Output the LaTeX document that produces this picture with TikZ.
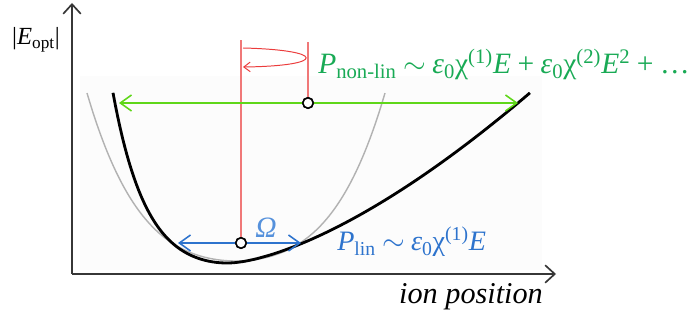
\documentclass[tikz,border=0pt]{standalone}
\usepackage{fontspec}
\setmainfont{Liberation Serif}
\usetikzlibrary{arrows.meta}
\definecolor{axisgray}{RGB}{55,55,55}
\definecolor{lime}{RGB}{95,215,25}
\definecolor{leaf}{RGB}{25,170,85}
\definecolor{sky}{RGB}{45,115,205}
\definecolor{skylight}{RGB}{85,145,220}
\definecolor{rose}{RGB}{240,120,120}
\definecolor{scarlet}{RGB}{235,60,60}
\newcommand{\epsz}{\textit{ε}\textsubscript{0}}
\newcommand{\chin}[1]{χ\textsuperscript{(#1)}}
\newcommand{\rel}[1]{\hspace{0.22em}#1\hspace{0.22em}}
\tikzset{
  axis/.style={draw=axisgray,line width=1.2pt,-{Straight Barb[length=2.4mm,width=4.4mm]}},
  barb/.style={<->,>={Straight Barb[length=2.8mm,width=4mm]},line width=1.1pt,draw=#1},
  barb/.default=lime,
  ion/.style={circle,draw=black,fill=white,line width=1.1pt,inner sep=0pt,minimum size=2.6mm},
  axis pin/.style={draw=rose,line width=0.8pt},
  lbl/.style={font=\fontsize{#1}{#1}\selectfont,inner sep=0pt},
  lbl/.default=20,
}
\begin{document}
\begin{tikzpicture}[x=0.025cm,y=-0.025cm]
  \useasboundingbox (0,0) rectangle (690,320);
  % faint backdrop
  \fill[black!1.2] (80,76) rectangle (542,270);
  % axes
  \draw[axis] (72,274) -- (72,3);
  \draw[axis] (72,274) -- (556,274);
  \node[lbl=17.5,anchor=base] (eopt) at (36,45) {|\textit{E}\textsubscript{opt}|};
  \node[lbl=21.5,anchor=base,font=\fontsize{21.5}{21.5}\selectfont\itshape] (xlab) at (471,304) {ion position};
  % harmonic (gray) and real (black) potentials
  \draw[black!30,line width=1pt] plot[smooth,domain=-1.49:1.49,samples=60]
    ({236+100*\x},{261-36.8*\x*\x-17.5*\x*\x*\x*\x});
  \draw[black,line width=2pt,line join=round]
    plot[domain=-1.14:0,samples=50] ({227+100*\x},{263-11.9*(cosh(3*\x)-1)})
    -- plot[domain=0:3.03,samples=80] ({227+100*\x},{263-32.2*((\x*\x+0.0225)^0.755-0.057)});
  % ions
  \node[ion] (ionlin) at (241,243) {};
  \node[ion] (ionnl) at (308,103) {};
  \coordinate (toplin) at (241,40);
  \coordinate (topnl) at (308,42);
  \draw[axis pin] (ionlin) -- (toplin);
  \draw[axis pin] (ionnl) -- (topnl);
  \draw[scarlet,line width=0.7pt,-{Straight Barb[length=1.6mm,width=2.4mm]}]
    (243,48) .. controls (327,50) and (327,66) .. (243,67);
  % arrows
  \coordinate (nlleft) at (119,103);
  \coordinate (nlright) at (518,103);
  \draw[barb=lime] (nlleft) -- (nlright);
  \coordinate (linleft) at (178,243);
  \coordinate (linright) at (301,243);
  \draw[barb=sky] (linleft) -- (linright);
  \node[ion] at (ionlin) {};
  \node[ion] at (ionnl) {};
  % labels
  \node[lbl=21,anchor=base,text=skylight] (omega) at (266,238) {\textit{Ω}};
  \node[lbl=20,anchor=base west,text=sky] (plin) at (337,251)
    {\textit{P}\textsubscript{lin}\rel{$\sim$}\epsz\chin{1}\textit{E}};
  \node[lbl=21,anchor=base west,text=leaf] (pnl) at (318,74)
    {\textit{P}\textsubscript{non-lin}\rel{$\sim$}\epsz\chin{1}\textit{E}\rel{+}\epsz\chin{2}\textit{E}\textsuperscript{2}\rel{+}…};
\end{tikzpicture}
\end{document}
